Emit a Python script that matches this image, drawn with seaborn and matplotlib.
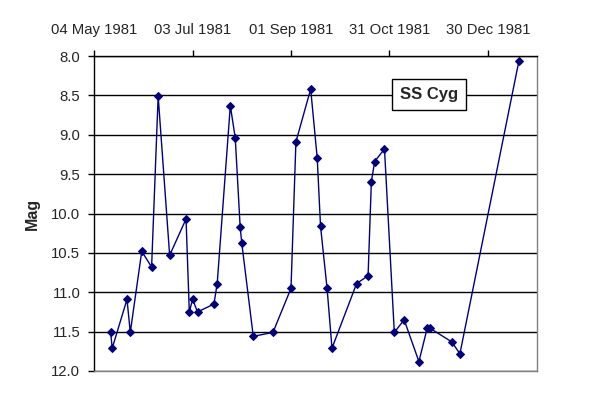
import pandas as pd
import matplotlib
matplotlib.use("Agg")
import matplotlib.pyplot as plt
import matplotlib.dates as mdates
from matplotlib.ticker import FormatStrFormatter
import seaborn as sns

dates = [
    "1981-05-14", "1981-05-15", "1981-05-24", "1981-05-26", "1981-06-02",
    "1981-06-08", "1981-06-12", "1981-06-19", "1981-06-29", "1981-07-01",
    "1981-07-03", "1981-07-06", "1981-07-16", "1981-07-18", "1981-07-26",
    "1981-07-29", "1981-08-01", "1981-08-02", "1981-08-09", "1981-08-21",
    "1981-09-01", "1981-09-04", "1981-09-13", "1981-09-17", "1981-09-19",
    "1981-09-23", "1981-09-26", "1981-10-11", "1981-10-18", "1981-10-20",
    "1981-10-22", "1981-10-28", "1981-11-03", "1981-11-09", "1981-11-18",
    "1981-11-23", "1981-11-25", "1981-12-08", "1981-12-13", "1982-01-18",
]
mag = [
    11.51, 11.71, 11.09, 11.51, 10.48,
    10.68, 8.51, 10.53, 10.07, 11.25,
    11.09, 11.25, 11.15, 10.89, 8.63,
    9.04, 10.17, 10.38, 11.56, 11.51,
    10.95, 9.09, 8.42, 9.30, 10.16,
    10.95, 11.71, 10.89, 10.79, 9.60,
    9.34, 9.18, 11.51, 11.35, 11.88,
    11.46, 11.46, 11.63, 11.78, 8.06,
]
tick_dates = ["1981-05-04", "1981-07-03", "1981-09-01", "1981-10-31", "1981-12-30"]

df = pd.DataFrame({"Date": pd.to_datetime(dates), "Mag": mag})

sns.set_style("white")
plt.rcParams["font.family"] = ["Liberation Sans", "DejaVu Sans"]

fig = plt.figure(figsize=(6, 4), dpi=100)
ax = fig.add_axes([0.157, 0.0725, 0.738, 0.7875])

sns.lineplot(data=df, x="Date", y="Mag", marker="D", markersize=4.5,
             color="#000080", markeredgecolor="#000080", linewidth=1,
             estimator=None, sort=False, ax=ax)

ax.set_xlim(pd.Timestamp("1981-05-04"), pd.Timestamp("1982-01-29"))
ax.set_ylim(12.0, 8.0)
ax.set_yticks([8.0, 8.5, 9.0, 9.5, 10.0, 10.5, 11.0, 11.5, 12.0])
ax.yaxis.set_major_formatter(FormatStrFormatter("%.1f"))
ax.set_xticks(pd.to_datetime(tick_dates))
ax.xaxis.set_major_formatter(mdates.DateFormatter("%d %b %Y"))
ax.xaxis.tick_top()

ax.yaxis.grid(True, color="black", linewidth=1)
ax.set_axisbelow(True)
ax.tick_params(axis="both", direction="out", length=4, width=1, color="black",
               labelsize=10.7)
ax.tick_params(axis="y", left=True, pad=6)
ax.tick_params(axis="x", top=True, bottom=False, pad=10)

for side in ["top", "left"]:
    ax.spines[side].set_color("black")
    ax.spines[side].set_linewidth(1)
for side in ["right", "bottom"]:
    ax.spines[side].set_color("#808080")
    ax.spines[side].set_linewidth(1)

ax.set_xlabel("")
ax.set_ylabel("Mag", fontsize=11.5, fontweight="bold", labelpad=8)

ax.text(0.756, 0.878, "SS Cyg", transform=ax.transAxes, fontsize=12,
        fontweight="bold", ha="center", va="center",
        bbox=dict(boxstyle="square,pad=0.5", facecolor="white",
                  edgecolor="black", linewidth=1))

fig.savefig("out.png", dpi=100)
